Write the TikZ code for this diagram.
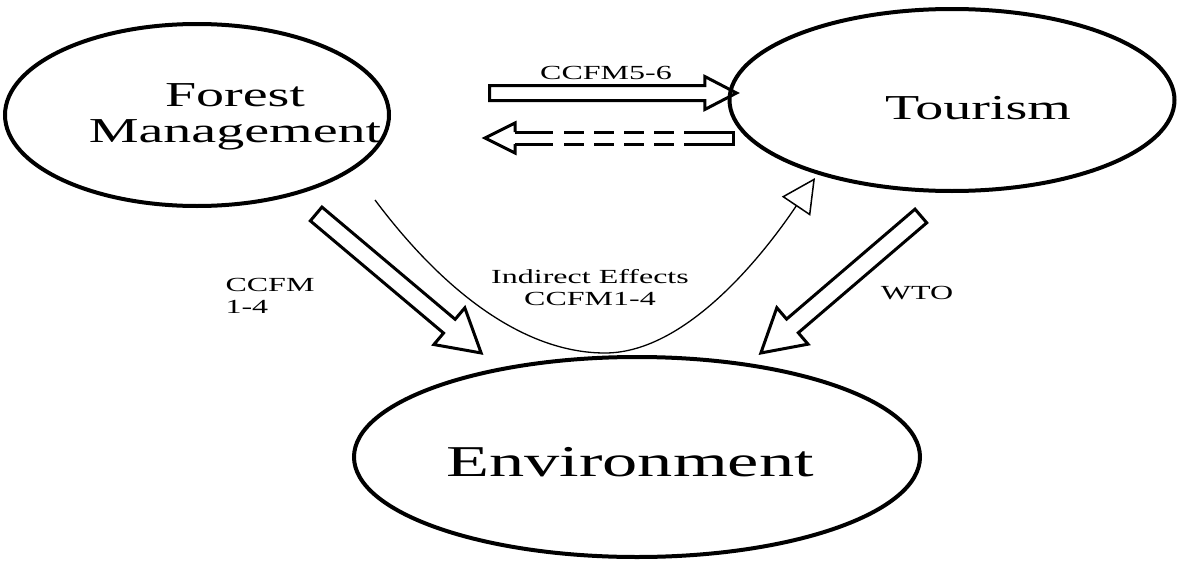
\documentclass[tikz,border=0pt]{standalone}
\usepackage{fontspec}
\setmainfont{Liberation Serif}
\usetikzlibrary{shapes,arrows.meta,positioning,calc}

\begin{document}
\begin{tikzpicture}[x=1pt, y=-1pt,
    bubble/.style={draw, ellipse, line width=4pt, inner sep=0pt},
    bigtext/.style={font=\fontsize{35}{36}\selectfont, xscale=1.6, align=center},
    smalltext/.style={font=\fontsize{20}{22}\selectfont, xscale=1.6},
    fatarrow/.style={draw, single arrow, line width=3pt, inner sep=0pt, inner ysep=7.5pt,
      single arrow head extend=15pt, single arrow tip angle=60, anchor=tail},
    dashside/.style={line width=3pt, dash pattern=on 38pt off 11pt on 20pt off 10pt on 20pt off 10pt
      on 20pt off 10pt on 20pt off 10pt on 60pt}]
  \useasboundingbox (0,0) rectangle (1203,562);

  % the three bubbles
  \node[bubble, minimum width=384pt, minimum height=182pt] (forest) at (197,115) {};
  \node[bubble, minimum width=445pt, minimum height=182pt] (tourism) at (952,100) {};
  \node[bubble, minimum width=566pt, minimum height=200pt] (env) at (637,457) {};
  \node[bigtext] (forestlbl) at (235,117) {Forest\\Management};
  \node[bigtext] (tourismlbl) at (978,108) {Tourism};
  \node[bigtext, font=\fontsize{44}{46}\selectfont] (envlbl) at (630,462) {Environment};

  % ends of the block arrows
  \coordinate (ftail) at (488,93);
  \coordinate (ttip) at (735,93);
  \coordinate (fmtail) at (315,213);
  \coordinate (envtipl) at (480,352);
  \coordinate (totail) at (922,215);
  \coordinate (envtipr) at (762,352);

  \path let \p1=($(ttip)-(ftail)$), \n1={atan2(\y1,\x1)}, \n2={veclen(\x1,\y1)} in
    (ftail) node[fatarrow, inner ysep=6pt, single arrow head extend=9pt, single arrow tip angle=55,
      rotate=\n1, minimum height=\n2] (f2t) {};
  \path let \p1=($(envtipl)-(fmtail)$), \n1={atan2(\y1,\x1)}, \n2={veclen(\x1,\y1)} in
    (fmtail) node[fatarrow, rotate=\n1, minimum height=\n2] (f2e) {};
  \path let \p1=($(envtipr)-(totail)$), \n1={atan2(\y1,\x1)}, \n2={veclen(\x1,\y1)} in
    (totail) node[fatarrow, rotate=\n1, minimum height=\n2] (t2e) {};

  % dashed block arrow back to forest management
  \coordinate (btip) at (485,138);
  \coordinate (btail) at (733,138);
  \draw[line width=3pt, line join=miter] ([xshift=30pt, yshift=-6pt]btip) -- ([xshift=30pt, yshift=-15pt]btip)
    -- (btip) -- ([xshift=30pt, yshift=15pt]btip) -- ([xshift=30pt, yshift=6pt]btip);
  \draw[dashside] ([xshift=30pt, yshift=-6pt]btip) -- ([yshift=-6pt]btail);
  \draw[dashside] ([xshift=30pt, yshift=6pt]btip) -- ([yshift=6pt]btail);
  \draw[line width=3pt] ([xshift=-14pt, yshift=-6pt]btail) -- ([yshift=-6pt]btail) -- ([yshift=6pt]btail)
    -- ([xshift=-14pt, yshift=6pt]btail);

  % indirect effects
  \coordinate (istart) at (375,200);
  \coordinate (iend) at (815,178);
  \draw[line width=1.3pt, -{Triangle[open, length=34pt, width=34pt, line width=1.5pt]}]
    (istart) .. controls (450,300) and (530,353) .. (605,353)
    .. controls (690,353) and (770,245) .. (iend);

  % labels
  \node[smalltext] (l56) at (606,73) {CCFM5-6};
  \node[smalltext, align=center] (lind) at (590,288) {Indirect Effects\\CCFM1-4};
  \node[smalltext, align=left] (l14) at (270,296) {CCFM\\1-4};
  \node[smalltext] (lwto) at (917,293) {WTO};
\end{tikzpicture}
\end{document}
